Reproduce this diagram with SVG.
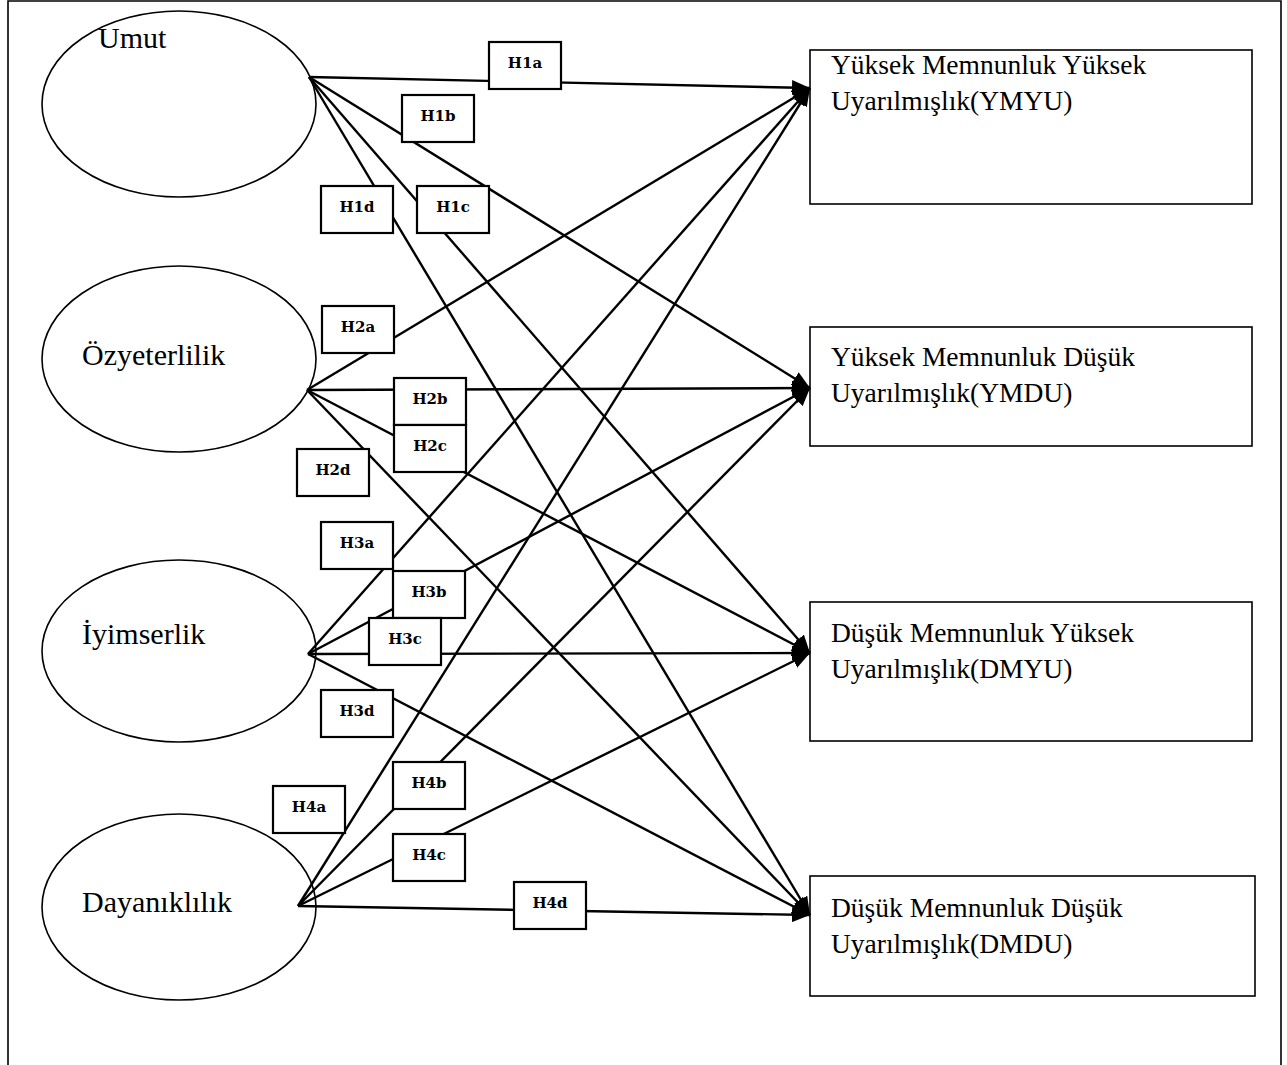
<svg xmlns="http://www.w3.org/2000/svg" width="1287" height="1065" viewBox="0 0 1287 1065">
<style>
.frame{fill:none;stroke:#000;stroke-width:1.6}
.ell{fill:#fff;stroke:#000;stroke-width:1.6}
.etext{font-family:"Liberation Serif","Times New Roman",serif;font-size:30px;fill:#000}
.box{fill:#fff;stroke:#000;stroke-width:1.6}
.btext{font-family:"Liberation Serif","Times New Roman",serif;font-size:27.5px;fill:#000}
.lbl{fill:#fff;stroke:#000;stroke-width:2.2}
.ltext{font-family:"DejaVu Serif","Liberation Serif",serif;font-size:15px;font-weight:bold;fill:#000;text-anchor:middle}
.edge{fill:none;stroke:#000;stroke-width:2.4;marker-end:url(#arr)}
</style>
<defs>
<marker id="arr" markerUnits="userSpaceOnUse" viewBox="0 0 18 15" refX="18" refY="7.5" markerWidth="18" markerHeight="15" orient="auto">
<path d="M0,0 L18,7.5 L0,15 z" fill="#000"/>
</marker>
</defs>
<rect width="1287" height="1065" fill="#fff"/>
<path class="frame" d="M8,1065 V1 H1281 V1065"/>

<g id="n-umut"><ellipse class="ell" cx="179" cy="104" rx="137" ry="93"/><text class="etext" x="98" y="48">Umut</text></g>
<g id="n-ozyeterlilik"><ellipse class="ell" cx="179" cy="359" rx="137" ry="93"/><text class="etext" x="82" y="365">Özyeterlilik</text></g>
<g id="n-iyimserlik"><ellipse class="ell" cx="179" cy="651" rx="137" ry="91"/><text class="etext" x="82" y="644">İyimserlik</text></g>
<g id="n-dayaniklilik"><ellipse class="ell" cx="179" cy="907" rx="137" ry="93"/><text class="etext" x="82" y="912">Dayanıklılık</text></g>

<g id="n-ymyu"><rect class="box" x="810" y="50" width="442" height="154"/><text class="btext" x="831" y="74">Yüksek Memnunluk Yüksek</text><text class="btext" x="831" y="110">Uyarılmışlık(YMYU)</text></g>
<g id="n-ymdu"><rect class="box" x="810" y="327" width="442" height="119"/><text class="btext" x="831" y="366">Yüksek Memnunluk Düşük</text><text class="btext" x="831" y="402">Uyarılmışlık(YMDU)</text></g>
<g id="n-dmyu"><rect class="box" x="810" y="602" width="442" height="139"/><text class="btext" x="831" y="642">Düşük Memnunluk Yüksek</text><text class="btext" x="831" y="678">Uyarılmışlık(DMYU)</text></g>
<g id="n-dmdu"><rect class="box" x="810" y="876" width="445" height="120"/><text class="btext" x="831" y="917">Düşük Memnunluk Düşük</text><text class="btext" x="831" y="953">Uyarılmışlık(DMDU)</text></g>

<g id="connectors">
<line class="edge" x1="309" y1="77" x2="810" y2="88"/>
<line class="edge" x1="309" y1="77" x2="810" y2="388"/>
<line class="edge" x1="309" y1="77" x2="810" y2="653"/>
<line class="edge" x1="309" y1="77" x2="810" y2="915"/>
<line class="edge" x1="307" y1="390" x2="810" y2="88"/>
<line class="edge" x1="307" y1="390" x2="810" y2="388"/>
<line class="edge" x1="307" y1="390" x2="810" y2="653"/>
<line class="edge" x1="307" y1="390" x2="810" y2="915"/>
<line class="edge" x1="308" y1="654" x2="810" y2="88"/>
<line class="edge" x1="308" y1="654" x2="810" y2="388"/>
<line class="edge" x1="308" y1="654" x2="810" y2="653"/>
<line class="edge" x1="308" y1="654" x2="810" y2="915"/>
<line class="edge" x1="298" y1="906" x2="810" y2="88"/>
<line class="edge" x1="298" y1="906" x2="810" y2="388"/>
<line class="edge" x1="298" y1="906" x2="810" y2="653"/>
<line class="edge" x1="298" y1="906" x2="810" y2="915"/>
</g>

<g id="l-h1a"><rect class="lbl" x="489" y="42" width="72" height="47"/><text class="ltext" x="525" y="68">H1a</text></g>
<g id="l-h1b"><rect class="lbl" x="402" y="95" width="72" height="47"/><text class="ltext" x="438" y="121">H1b</text></g>
<g id="l-h1c"><rect class="lbl" x="417" y="186" width="72" height="47"/><text class="ltext" x="453" y="212">H1c</text></g>
<g id="l-h1d"><rect class="lbl" x="321" y="186" width="72" height="47"/><text class="ltext" x="357" y="212">H1d</text></g>
<g id="l-h2a"><rect class="lbl" x="322" y="306" width="72" height="47"/><text class="ltext" x="358" y="332">H2a</text></g>
<g id="l-h2b"><rect class="lbl" x="394" y="378" width="72" height="47"/><text class="ltext" x="430" y="404">H2b</text></g>
<g id="l-h2c"><rect class="lbl" x="394" y="425" width="72" height="47"/><text class="ltext" x="430" y="451">H2c</text></g>
<g id="l-h2d"><rect class="lbl" x="297" y="449" width="72" height="47"/><text class="ltext" x="333" y="475">H2d</text></g>
<g id="l-h3a"><rect class="lbl" x="321" y="522" width="72" height="47"/><text class="ltext" x="357" y="548">H3a</text></g>
<g id="l-h3b"><rect class="lbl" x="393" y="571" width="72" height="47"/><text class="ltext" x="429" y="597">H3b</text></g>
<g id="l-h3c"><rect class="lbl" x="369" y="618" width="72" height="47"/><text class="ltext" x="405" y="644">H3c</text></g>
<g id="l-h3d"><rect class="lbl" x="321" y="690" width="72" height="47"/><text class="ltext" x="357" y="716">H3d</text></g>
<g id="l-h4a"><rect class="lbl" x="273" y="786" width="72" height="47"/><text class="ltext" x="309" y="812">H4a</text></g>
<g id="l-h4b"><rect class="lbl" x="393" y="762" width="72" height="47"/><text class="ltext" x="429" y="788">H4b</text></g>
<g id="l-h4c"><rect class="lbl" x="393" y="834" width="72" height="47"/><text class="ltext" x="429" y="860">H4c</text></g>
<g id="l-h4d"><rect class="lbl" x="514" y="882" width="72" height="47"/><text class="ltext" x="550" y="908">H4d</text></g>
</svg>
